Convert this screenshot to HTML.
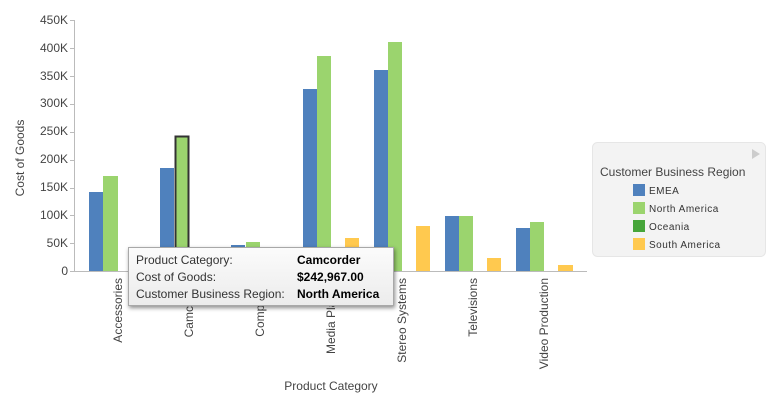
<!DOCTYPE html>
<html><head><meta charset="utf-8"><style>
body{margin:0;background:#fff;width:775px;height:411px;overflow:hidden;font-family:"Liberation Sans",sans-serif;}
svg text{font-family:"Liberation Sans",sans-serif;}
#tip{position:absolute;left:128px;top:247px;width:264px;height:57px;background:linear-gradient(#fbfbfb,#ececec);border:1px solid #a8a8a8;box-shadow:1px 2px 4px rgba(0,0,0,0.45);font-size:12px;color:#333;}
#tip div{position:absolute;left:7px;white-space:nowrap;}
#tip b{position:absolute;left:161px;color:#000;}
</style></head><body>
<svg width="775" height="411" style="position:absolute;left:0;top:0">
<g font-size="12" fill="#444" text-anchor="end">
<text x="68" y="275">0</text>
<text x="68" y="247">50K</text>
<text x="68" y="219">100K</text>
<text x="68" y="191">150K</text>
<text x="68" y="163">200K</text>
<text x="68" y="135">250K</text>
<text x="68" y="107">300K</text>
<text x="68" y="80">350K</text>
<text x="68" y="52">400K</text>
<text x="68" y="24">450K</text>
</g>
<g stroke="#bbb" stroke-width="1">
<line x1="74.5" y1="20" x2="74.5" y2="271"/>
<line x1="74" y1="271.5" x2="587" y2="271.5"/>
<line x1="70" y1="20.5" x2="74" y2="20.5"/><line x1="70" y1="48.5" x2="74" y2="48.5"/><line x1="70" y1="76.5" x2="74" y2="76.5"/><line x1="70" y1="104.5" x2="74" y2="104.5"/><line x1="70" y1="132.5" x2="74" y2="132.5"/><line x1="70" y1="160.5" x2="74" y2="160.5"/><line x1="70" y1="188.5" x2="74" y2="188.5"/><line x1="70" y1="215.5" x2="74" y2="215.5"/><line x1="70" y1="243.5" x2="74" y2="243.5"/><line x1="70" y1="271.5" x2="74" y2="271.5"/>
</g>
<g>
<rect x="89" y="192" width="14" height="79" fill="#4f81bd"/><rect x="103" y="176" width="15" height="95" fill="#9bd46e"/>
<rect x="160" y="168" width="14" height="103" fill="#4f81bd"/>
<rect x="231" y="245" width="14" height="26" fill="#4f81bd"/><rect x="246" y="242" width="14" height="29" fill="#9bd46e"/>
<rect x="303" y="89" width="14" height="182" fill="#4f81bd"/><rect x="317" y="56" width="14" height="215" fill="#9bd46e"/><rect x="345" y="238" width="14" height="33" fill="#ffc94f"/>
<rect x="374" y="70" width="14" height="201" fill="#4f81bd"/><rect x="388" y="42" width="14" height="229" fill="#9bd46e"/><rect x="416" y="226" width="14" height="45" fill="#ffc94f"/>
<rect x="445" y="216" width="14" height="55" fill="#4f81bd"/><rect x="459" y="216" width="14" height="55" fill="#9bd46e"/><rect x="487" y="258" width="14" height="13" fill="#ffc94f"/>
<rect x="516" y="228" width="14" height="43" fill="#4f81bd"/><rect x="530" y="222" width="14" height="49" fill="#9bd46e"/><rect x="558" y="265" width="15" height="6" fill="#ffc94f"/>
<rect x="175.5" y="136.5" width="13" height="134" fill="#9bd46e" stroke="#333" stroke-width="2"/>
</g>
<g font-size="12" fill="#444" text-anchor="end">
<text transform="translate(122,278) rotate(-90)">Accessories</text>
<text transform="translate(193,278) rotate(-90)">Camcorder</text>
<text transform="translate(264,278) rotate(-90)">Computers</text>
<text transform="translate(335,278) rotate(-90)">Media Players</text>
<text transform="translate(406,278) rotate(-90)">Stereo Systems</text>
<text transform="translate(477,278) rotate(-90)">Televisions</text>
<text transform="translate(548,278) rotate(-90)">Video Production</text>
</g>
<text x="331" y="390" font-size="12" fill="#444" text-anchor="middle">Product Category</text>
<text transform="translate(24,158) rotate(-90)" font-size="12" fill="#444" text-anchor="middle">Cost of Goods</text>
<rect x="592.5" y="142.5" width="173" height="114" rx="5" fill="#f3f3f3" stroke="#e6e6e6"/>
<polygon points="752,149 752,159 760,154" fill="#ccc"/>
<text x="600" y="176" font-size="12" fill="#444">Customer Business Region</text>
<rect x="633" y="184" width="12" height="12" fill="#4f81bd"/><text x="649" y="194" font-size="10" fill="#333" letter-spacing="0.5">EMEA</text>
<rect x="633" y="202" width="12" height="12" fill="#9bd46e"/><text x="649" y="212" font-size="10" fill="#333" letter-spacing="0.5">North America</text>
<rect x="633" y="220" width="12" height="12" fill="#46a53a"/><text x="649" y="230" font-size="10" fill="#333" letter-spacing="0.5">Oceania</text>
<rect x="633" y="238" width="12" height="12" fill="#ffc94f"/><text x="649" y="248" font-size="10" fill="#333" letter-spacing="0.5">South America</text>
</svg>
<div id="tip">
<div style="top:5px">Product Category:<b>Camcorder</b></div>
<div style="top:22px">Cost of Goods:<b>$242,967.00</b></div>
<div style="top:39px">Customer Business Region:<b>North America</b></div>
</div>
</body></html>
